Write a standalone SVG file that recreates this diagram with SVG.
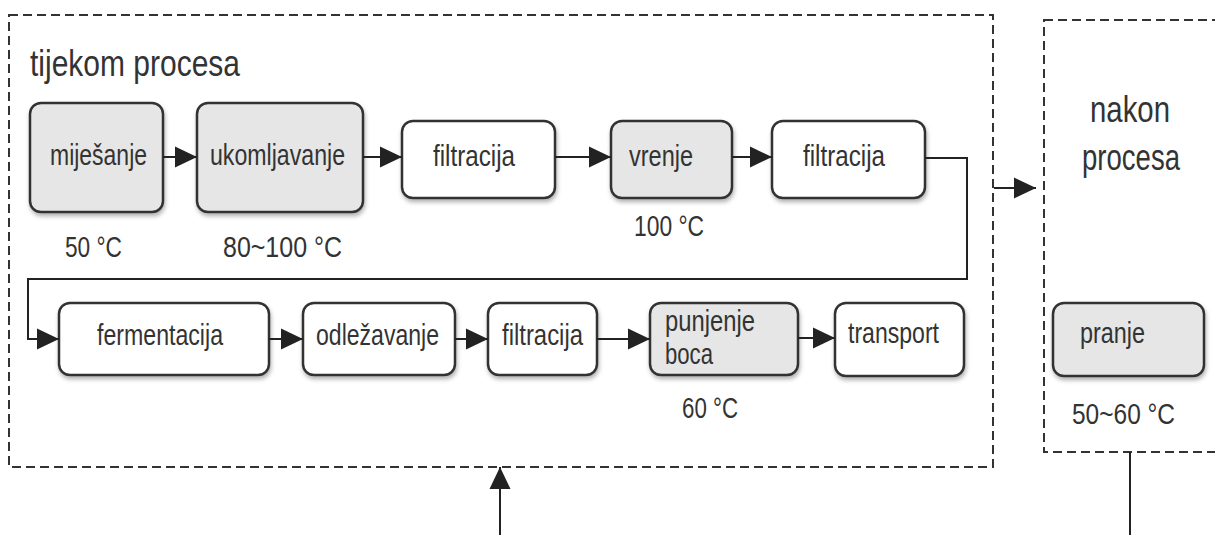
<svg xmlns="http://www.w3.org/2000/svg" width="1215" height="535" viewBox="0 0 1215 535">
<defs>
<filter id="sh" x="-10%" y="-10%" width="130%" height="140%">
<feDropShadow dx="1" dy="3" stdDeviation="2" flood-color="#000" flood-opacity="0.3"/>
</filter>
<marker id="ah" markerUnits="userSpaceOnUse" markerWidth="24" markerHeight="24" refX="22" refY="12" orient="auto">
<path d="M0,1.5 L22,12 L0,22.5 z" fill="#222"/>
</marker>
</defs>
<style>
text{font-family:"Liberation Sans",Arial,sans-serif;fill:#333;font-size:29px}
.big{font-size:37px}
.box{stroke:#333;stroke-width:2.5;filter:url(#sh)}
.w{fill:#fff}
.g{fill:#e6e6e6}
.dash{fill:none;stroke:#333;stroke-width:2;stroke-dasharray:9 5}
.con{fill:none;stroke:#222;stroke-width:2}
</style>
<rect width="1215" height="535" fill="#fff"/>
<g id="frame-during">
<rect class="dash" x="9" y="15" width="984" height="452"/>
<text class="big" x="30" y="76" textLength="210" lengthAdjust="spacingAndGlyphs">tijekom procesa</text>
</g>
<g id="frame-after">
<rect class="dash" x="1044" y="20" width="220" height="432"/>
<text class="big" x="1090" y="122" textLength="80" lengthAdjust="spacingAndGlyphs">nakon</text>
<text class="big" x="1082" y="170" textLength="98" lengthAdjust="spacingAndGlyphs">procesa</text>
</g>
<g id="n-mijesanje">
<rect class="box g" x="30" y="103" width="133" height="109" rx="11"/>
<text x="50" y="165" textLength="97" lengthAdjust="spacingAndGlyphs">miješanje</text>
<text x="65" y="257" textLength="57" lengthAdjust="spacingAndGlyphs">50 °C</text>
</g>
<g id="n-ukomljavanje">
<rect class="box g" x="197" y="103" width="166" height="109" rx="11"/>
<text x="210" y="165" textLength="135" lengthAdjust="spacingAndGlyphs">ukomljavanje</text>
<text x="223" y="257" textLength="119" lengthAdjust="spacingAndGlyphs">80~100 °C</text>
</g>
<g id="n-filtracija1">
<rect class="box w" x="402" y="121" width="153" height="77" rx="11"/>
<text x="433" y="166" textLength="82" lengthAdjust="spacingAndGlyphs">filtracija</text>
</g>
<g id="n-vrenje">
<rect class="box g" x="611" y="121" width="121" height="77" rx="11"/>
<text x="629" y="166" textLength="64" lengthAdjust="spacingAndGlyphs">vrenje</text>
<text x="634" y="236" textLength="70" lengthAdjust="spacingAndGlyphs">100 °C</text>
</g>
<g id="n-filtracija2">
<rect class="box w" x="772" y="121" width="153" height="77" rx="11"/>
<text x="803" y="166" textLength="82" lengthAdjust="spacingAndGlyphs">filtracija</text>
</g>
<g id="n-fermentacija">
<rect class="box w" x="59" y="303" width="210" height="72" rx="11"/>
<text x="97" y="345" textLength="126" lengthAdjust="spacingAndGlyphs">fermentacija</text>
</g>
<g id="n-odlezavanje">
<rect class="box w" x="303" y="303" width="152" height="72" rx="11"/>
<text x="316" y="345" textLength="123" lengthAdjust="spacingAndGlyphs">odležavanje</text>
</g>
<g id="n-filtracija3">
<rect class="box w" x="488" y="303" width="109" height="72" rx="11"/>
<text x="502" y="345" textLength="81" lengthAdjust="spacingAndGlyphs">filtracija</text>
</g>
<g id="n-punjenje">
<rect class="box g" x="650" y="303" width="148" height="72" rx="11"/>
<text x="665" y="331" textLength="90" lengthAdjust="spacingAndGlyphs">punjenje</text>
<text x="665" y="364" textLength="48" lengthAdjust="spacingAndGlyphs">boca</text>
<text x="682" y="418" textLength="56" lengthAdjust="spacingAndGlyphs">60 °C</text>
</g>
<g id="n-transport">
<rect class="box w" x="835" y="303" width="129" height="73" rx="11"/>
<text x="848" y="343" textLength="91" lengthAdjust="spacingAndGlyphs">transport</text>
</g>
<g id="n-pranje">
<rect class="box g" x="1053" y="303" width="151" height="73" rx="11"/>
<text x="1080" y="343" textLength="65" lengthAdjust="spacingAndGlyphs">pranje</text>
<text x="1072" y="424" textLength="103" lengthAdjust="spacingAndGlyphs">50~60 °C</text>
</g>
<g id="connectors">
<line class="con" x1="163" y1="157" x2="197" y2="157" marker-end="url(#ah)"/>
<line class="con" x1="363" y1="157" x2="402" y2="157" marker-end="url(#ah)"/>
<line class="con" x1="555" y1="157" x2="611" y2="157" marker-end="url(#ah)"/>
<line class="con" x1="732" y1="157" x2="772" y2="157" marker-end="url(#ah)"/>
<polyline class="con" points="925,158 967,158 967,279 28,279 28,339 59,339" marker-end="url(#ah)"/>
<line class="con" x1="269" y1="339" x2="303" y2="339" marker-end="url(#ah)"/>
<line class="con" x1="455" y1="339" x2="488" y2="339" marker-end="url(#ah)"/>
<line class="con" x1="597" y1="339" x2="650" y2="339" marker-end="url(#ah)"/>
<line class="con" x1="798" y1="338" x2="835" y2="338" marker-end="url(#ah)"/>
<line class="con" x1="994" y1="188" x2="1036" y2="188" marker-end="url(#ah)"/>
<line class="con" x1="500" y1="535" x2="500" y2="467" marker-end="url(#ah)"/>
<line class="con" x1="1130" y1="452" x2="1130" y2="535"/>
</g>
</svg>
